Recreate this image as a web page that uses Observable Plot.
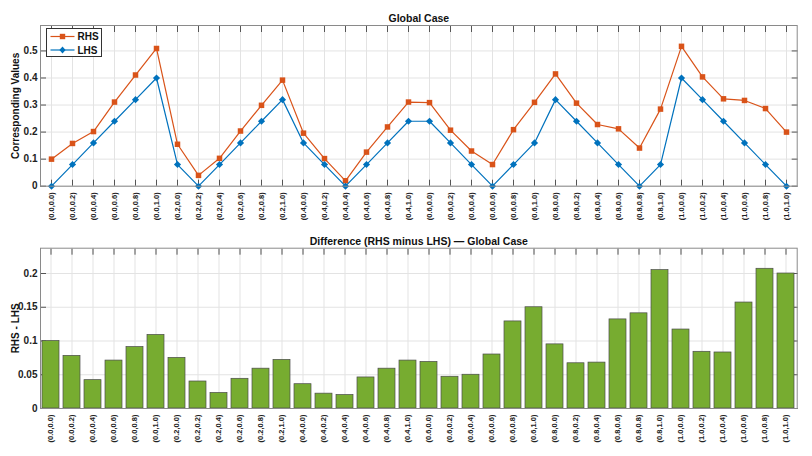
<!DOCTYPE html>
<html><head><meta charset="utf-8">
<script src="https://cdn.jsdelivr.net/npm/d3@7"></script>
<script src="https://cdn.jsdelivr.net/npm/@observablehq/plot@0.6"></script>
<style>
body{margin:0;background:#fff;font-family:"Liberation Sans",Arial,sans-serif}
#wrap{position:relative;width:812px}
#wrap svg{display:block}
</style></head><body><div id="wrap"></div><script>
const categories = ["(0.0,0.0)","(0.0,0.2)","(0.0,0.4)","(0.0,0.6)","(0.0,0.8)","(0.0,1.0)",
"(0.2,0.0)","(0.2,0.2)","(0.2,0.4)","(0.2,0.6)","(0.2,0.8)","(0.2,1.0)",
"(0.4,0.0)","(0.4,0.2)","(0.4,0.4)","(0.4,0.6)","(0.4,0.8)","(0.4,1.0)",
"(0.6,0.0)","(0.6,0.2)","(0.6,0.4)","(0.6,0.6)","(0.6,0.8)","(0.6,1.0)",
"(0.8,0.0)","(0.8,0.2)","(0.8,0.4)","(0.8,0.6)","(0.8,0.8)","(0.8,1.0)",
"(1.0,0.0)","(1.0,0.2)","(1.0,0.4)","(1.0,0.6)","(1.0,0.8)","(1.0,1.0)"];
const lhs = [0,0.08,0.16,0.24,0.32,0.40, 0.08,0,0.08,0.16,0.24,0.32, 0.16,0.08,0,0.08,0.16,0.24,
 0.24,0.16,0.08,0,0.08,0.16, 0.32,0.24,0.16,0.08,0,0.08, 0.40,0.32,0.24,0.16,0.08,0];
const rhs = [0.100,0.158,0.202,0.311,0.411,0.509, 0.155,0.040,0.103,0.204,0.299,0.392,
 0.196,0.102,0.020,0.126,0.219,0.311, 0.309,0.207,0.130,0.080,0.209,0.310,
 0.415,0.307,0.228,0.212,0.141,0.285, 0.517,0.404,0.323,0.317,0.287,0.200];
const yTicksTop = [0,0.1,0.2,0.3,0.4,0.5];
const yTicksBottom = [0,0.05,0.1,0.15,0.2];
const seriesNames = ["RHS","LHS"];
const seriesColors = ["#D95319","#0072BD"];
const barColor = "#77AC30";
const titles = ["Global Case", "Difference (RHS minus LHS) \u2014 Global Case"];
const yLabels = ["Corresponding Values", "RHS - LHS"];

const rows = categories.map((c,i)=>({cat:c, lhs:lhs[i], rhs:rhs[i], diff:+(rhs[i]-lhs[i]).toFixed(4)}));
const font = '"Liberation Sans", Arial, sans-serif';
const fmt = d => String(+d.toFixed(3));
const gridStroke = "#e3e3e3";
const tickStroke = "#555";
const TL = 6;

function commonMarks(yTicks, title, ylabel){
  return [
    Plot.gridX({stroke:gridStroke, strokeOpacity:1}),
    Plot.gridY(yTicks, {stroke:gridStroke, strokeOpacity:1}),
    Plot.axisX({anchor:"bottom", tickSize:TL, dy:-TL, fill:"none", stroke:tickStroke, label:null}),
    Plot.axisX({anchor:"top", tickSize:TL, dy:TL, fill:"none", stroke:tickStroke, label:null}),
    Plot.axisX({anchor:"bottom", tickSize:0, tickRotate:-90, tickPadding:6, fontSize:7.5, fontWeight:"bold", fill:"#222", label:null}),
    Plot.axisY(yTicks, {anchor:"left", tickSize:TL, dx:TL, fill:"none", stroke:tickStroke, label:null}),
    Plot.axisY(yTicks, {anchor:"right", tickSize:TL, dx:-TL, fill:"none", stroke:tickStroke, label:null}),
    Plot.axisY(yTicks, {anchor:"left", tickSize:0, tickPadding:3, tickFormat:fmt, fontSize:10, fontWeight:"bold", fill:"#222", label:null}),
    Plot.text([title], {frameAnchor:"top", dy:-11, fontSize:10.5, fontWeight:"bold", fill:"#111"}),
    Plot.text([ylabel], {frameAnchor:"left", textAnchor:"middle", dx:-25, rotate:-90, fontSize:10, fontWeight:"bold", fill:"#111"})
  ];
}

const topChart = Plot.plot({
  width:812, height:228, marginLeft:40, marginRight:15.3, marginTop:25, marginBottom:42.3,
  style:{fontFamily:font, background:"#fff"},
  x:{type:"point", domain:categories, padding:0.5},
  y:{domain:[0,0.594]},
  marks:[
    ...commonMarks(yTicksTop, titles[0], yLabels[0]),
    Plot.lineY(rows, {x:"cat", y:"rhs", stroke:seriesColors[0], strokeWidth:1.2}),
    Plot.dot(rows, {x:"cat", y:"rhs", symbol:"square", r:3.1, fill:seriesColors[0], stroke:null}),
    Plot.lineY(rows, {x:"cat", y:"lhs", stroke:seriesColors[1], strokeWidth:1.2}),
    Plot.dot(rows, {x:"cat", y:"lhs", symbol:"diamond2", r:3.2, fill:seriesColors[1], stroke:null}),
    Plot.frame({stroke:"#8a8a8a"})
  ]
});

const bottomChart = Plot.plot({
  width:812, height:228, marginLeft:40, marginRight:15.3, marginTop:19.7, marginBottom:48,
  style:{fontFamily:font, background:"#fff"},
  x:{type:"band", domain:categories, paddingInner:0.18, paddingOuter:0.09},
  y:{domain:[0,0.2375]},
  marks:[
    ...commonMarks(yTicksBottom, titles[1], yLabels[1]),
    Plot.barY(rows, {x:"cat", y:"diff", fill:barColor, stroke:"#4a4a4a", strokeWidth:0.7}),
    Plot.frame({stroke:"#8a8a8a"})
  ]
});

const wrap = document.getElementById("wrap");
wrap.appendChild(topChart);
wrap.appendChild(bottomChart);

// legend overlay
const leg = d3.select(wrap).append("div")
  .style("position","absolute").style("left","45.5px").style("top","28px")
  .style("width","56px").style("height","29px")
  .style("border","1px solid #333").style("background","#fff").style("box-sizing","border-box");
const lsvg = leg.append("svg").attr("width",56).attr("height",29).style("position","absolute").style("left","-1px").style("top","-1px");
seriesNames.forEach((name,i)=>{
  const y = 8.5 + i*13.5;
  lsvg.append("line").attr("x1",4.5).attr("x2",28.5).attr("y1",y).attr("y2",y)
    .attr("stroke",seriesColors[i]).attr("stroke-width",1.2);
  if(i===0){
    lsvg.append("rect").attr("x",16.5-2.7).attr("y",y-2.7).attr("width",5.4).attr("height",5.4).attr("fill",seriesColors[i]);
  } else {
    lsvg.append("path").attr("d",`M16.5,${y-3.6}L19.6,${y}L16.5,${y+3.6}L13.4,${y}Z`).attr("fill",seriesColors[i]);
  }
  lsvg.append("text").attr("x",31.5).attr("y",y+3.6).attr("font-size",10).attr("font-weight","bold")
    .attr("font-family",font).attr("fill","#111").text(name);
});
</script></body></html>
